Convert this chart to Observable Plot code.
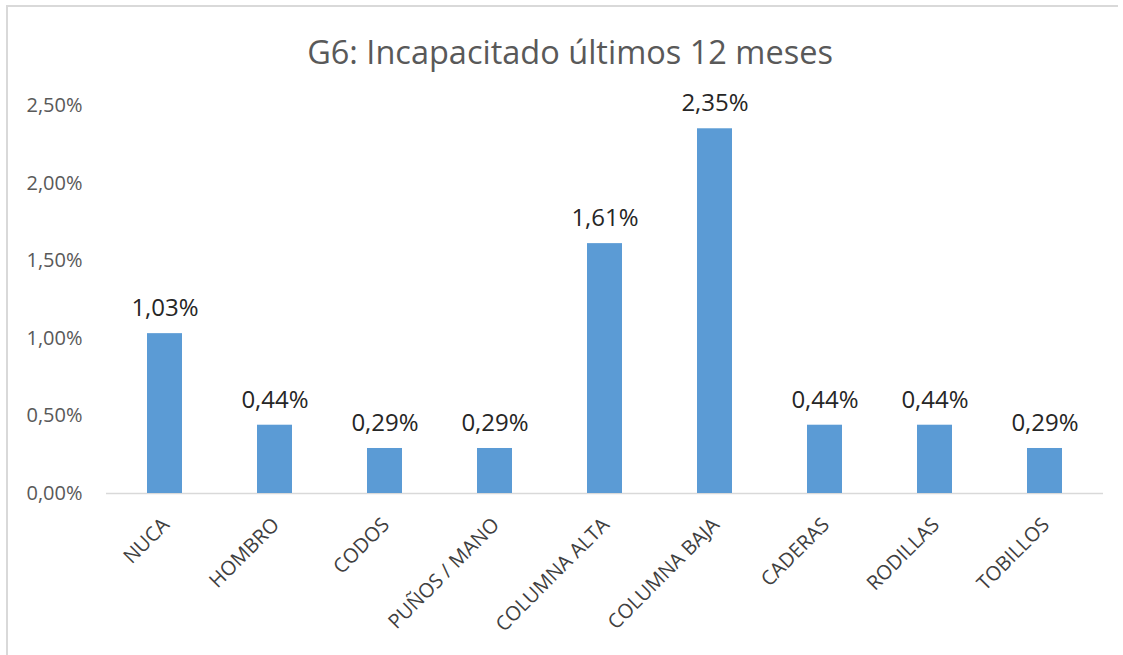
<!DOCTYPE html>
<html>
<head>
<meta charset="utf-8">
<script src="https://cdn.jsdelivr.net/npm/d3@7"></script>
<script src="https://cdn.jsdelivr.net/npm/@observablehq/plot@0.6"></script>
<style>
  html, body { margin: 0; padding: 0; background: #fff; }
  #wrap { position: relative; width: 1123px; height: 655px; overflow: hidden; }
  #frame { position: absolute; left: 6px; top: 5px; width: 1112px; height: 700px;
           border-left: 2px solid #d9d9d9; border-top: 2px solid #d9d9d9; box-sizing: border-box; }
  #wrap svg { position: absolute; left: 0; top: 0; }
</style>
</head>
<body>
<div id="wrap"><div id="frame"></div></div>
<script>
const title = "G6: Incapacitado últimos 12 meses";
const categories = ["NUCA", "HOMBRO", "CODOS", "PUÑOS / MANO", "COLUMNA ALTA", "COLUMNA BAJA", "CADERAS", "RODILLAS", "TOBILLOS"];
const values = [1.03, 0.44, 0.29, 0.29, 1.61, 2.35, 0.44, 0.44, 0.29];
const yTicks = [0, 0.5, 1, 1.5, 2, 2.5];

const data = categories.map((c, i) => ({cat: c, value: values[i]}));
const fmt = v => v.toFixed(2).replace(".", ",") + "%";
const font = "'Open Sans', sans-serif";

const chart = Plot.plot({
  width: 1123,
  height: 655,
  marginLeft: 106,
  marginRight: 20,
  marginTop: 105,
  marginBottom: 162,
  style: {fontFamily: font, background: "transparent", overflow: "visible"},
  x: {domain: categories, paddingInner: 0.684, paddingOuter: 0.342, axis: null},
  y: {domain: [0, 2.5], axis: null},
  marks: [
    Plot.ruleY([0], {stroke: "#d9d9d9", strokeWidth: 1.5}),
    Plot.barY(data, {x: "cat", y: "value", fill: "#5B9BD5"}),
    Plot.axisY(yTicks, {label: null, tickSize: 0, tickPadding: 24, tickFormat: fmt, fontSize: 20, fill: "#595959", textAnchor: "end"}),
    Plot.text(data, {x: "cat", y: "value", text: d => fmt(d.value), dy: -25, fontSize: 24, fill: "#262626"}),
    Plot.text(categories, {x: d => d, y: () => 0, text: d => d, rotate: -45, textAnchor: "end", dx: 1, dy: 28, fontSize: 20, fill: "#404040"}),
    Plot.text([title], {frameAnchor: "top", lineAnchor: "bottom", dy: -42, dx: -35, fontSize: 32.5, fill: "#595959"})
  ]
});
document.getElementById("wrap").appendChild(chart);
</script>
</body>
</html>
